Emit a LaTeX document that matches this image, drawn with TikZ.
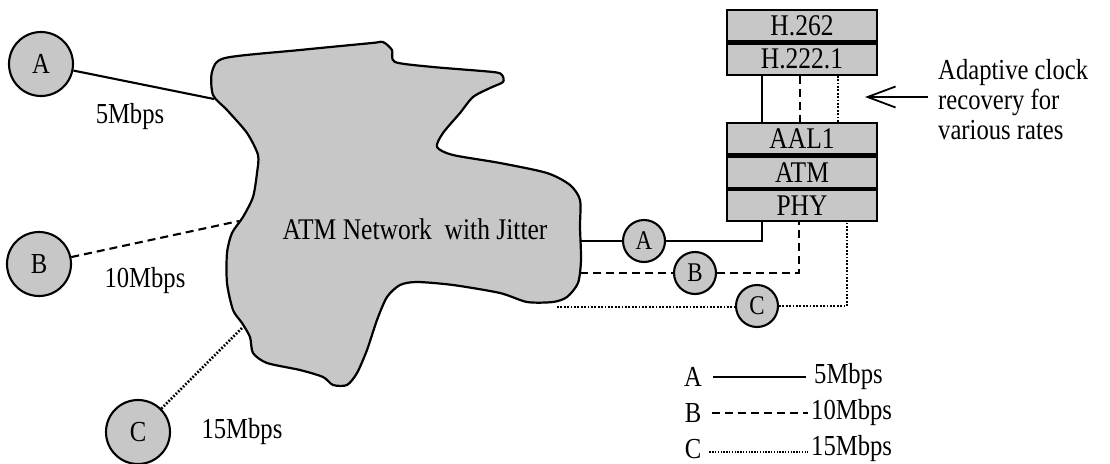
\documentclass[tikz,border=0pt]{standalone}
\usepackage{fontspec}
\setmainfont{Liberation Serif}[FakeStretch=0.85]
\usetikzlibrary{arrows.meta,positioning}
\begin{document}
\begin{tikzpicture}[x=1pt,y=-1pt,
  txt/.style={font=\fontsize{29}{30}\selectfont, inner sep=0pt},
  shade/.style={fill=black!22},
  site/.style={circle, draw, line width=2.1pt, shade, minimum size=64pt,
    inner sep=0pt, font=\fontsize{29}{30}\selectfont},
  term/.style={site, minimum size=42pt, font=\fontsize{27}{28}\selectfont},
  layer/.style={draw, line width=2.1pt, shade, minimum width=150pt,
    minimum height=31.3pt, inner sep=0pt, font=\fontsize{30}{30}\selectfont},
  solidlink/.style={line width=2.1pt},
  dashlink/.style={line width=2.1pt, dash pattern=on 8pt off 5pt},
  dotlink/.style={line width=2.6pt, dash pattern=on 1.7pt off 1.7pt},
]
\useasboundingbox (0,0) rectangle (1110,463);

% the network cloud
\draw[line width=2.2pt, shade, line join=round] plot[smooth cycle, tension=0.45] coordinates {
  (225,58) (300,50) (372,43) (383,42) (392,50) (395,62) (433,67) (493,72)
  (502,75) (503,82) (490,88) (473,97) (460,113) (443,133) (437,147) (453,155)
  (500,163) (547,173) (570,185) (580,200) (580,227) (581,260) (578,283)
  (567,297) (553,302) (527,302) (500,293) (453,285) (417,282) (400,285)
  (387,297) (377,320) (367,350) (357,373) (347,385) (333,385) (323,377)
  (300,370) (267,363) (253,353) (250,337) (242,323) (233,310) (227,283)
  (227,253) (232,233) (243,217) (253,197) (257,173) (258,155) (247,133)
  (227,110) (213,95) (212,72)};
\node[txt, font=\fontsize{30}{30}\selectfont] (net) at (415,229) {ATM Network~ with Jitter};

% attachment points on the cloud
\coordinate (inA) at (214,99);
\coordinate (inB) at (239,221);
\coordinate (inC) at (243,327);
\coordinate (outA) at (581,241);
\coordinate (outB) at (580,273);
\coordinate (outC) at (557,307);

% sources on the left
\node[site] (srcA) at (41,64) {A};
\node[site] (srcB) at (39,264) {B};
\node[site] (srcC) at (138,432) {C};
\draw[solidlink] (srcA) -- (inA);
\draw[dashlink] (srcB) -- (inB);
\draw[dotlink] (srcC) -- (inC);
\node[txt] at (130,117) {5Mbps};
\node[txt] at (145,281) {10Mbps};
\node[txt] at (242,432) {15Mbps};

% protocol stacks
\node[layer, anchor=north] (h262) at (802,9) {H.262};
\node[layer, below=0pt of h262] (h222) {H.222.1};
\node[layer, anchor=north] (aal) at (802,122) {AAL1};
\node[layer, below=0pt of aal] (atm) {ATM};
\node[layer, below=0pt of atm] (phy) {PHY};

\draw[solidlink] (h222.south -| 762,0) -- (aal.north -| 762,0);
\draw[dashlink] (h222.south -| 800,0) -- (aal.north -| 800,0);
\draw[dotlink] (h222.south -| 838,0) -- (aal.north -| 838,0);

% outputs of the network
\node[term] (dstA) at (644,241) {A};
\node[term] (dstB) at (695,273) {B};
\node[term] (dstC) at (757,306) {C};
\draw[solidlink] (outA) -- (dstA);
\draw[solidlink] (dstA) -| (phy.south -| 762,0);
\draw[dashlink] (outB) -- (dstB);
\draw[dashlink] (dstB) -| (phy.south -| 799,0);
\draw[dotlink] (outC) -- (dstC.west |- outC);
\draw[dotlink] (dstC) -| (phy.south -| 847,0);

% clock recovery note
\node[txt, anchor=west, align=left, font=\fontsize{29}{30}\selectfont] (note) at (938,100)
  {Adaptive clock\\recovery for\\various rates};
\coordinate (tip) at (865,97);
\draw[line width=1.8pt, -{Straight Barb[length=28pt,width=21pt,line width=1.8pt]}]
  (note.west |- tip) ++(-10,0) -- (tip);

% legend
\node[txt] (lA) at (693,377) {A};
\node[txt] (lB) at (693,413) {B};
\node[txt] (lC) at (693,449) {C};
\node[txt, anchor=west] (rA) at (814,377) {5Mbps};
\node[txt, anchor=west] (rB) at (811,413) {10Mbps};
\node[txt, anchor=west] (rC) at (811,449) {15Mbps};
\draw[solidlink] ([xshift=11pt]lA.east) -- ([xshift=-8pt]rA.west);
\draw[dashlink] ([xshift=11pt]lB.east) -- ([xshift=-3pt]rB.west);
\draw[line width=2.4pt, dash pattern=on 1.3pt off 1.5pt] ([xshift=8pt]lC.east |- 0,452) -- ([xshift=-3pt]rC.west |- 0,452);
\end{tikzpicture}
\end{document}
